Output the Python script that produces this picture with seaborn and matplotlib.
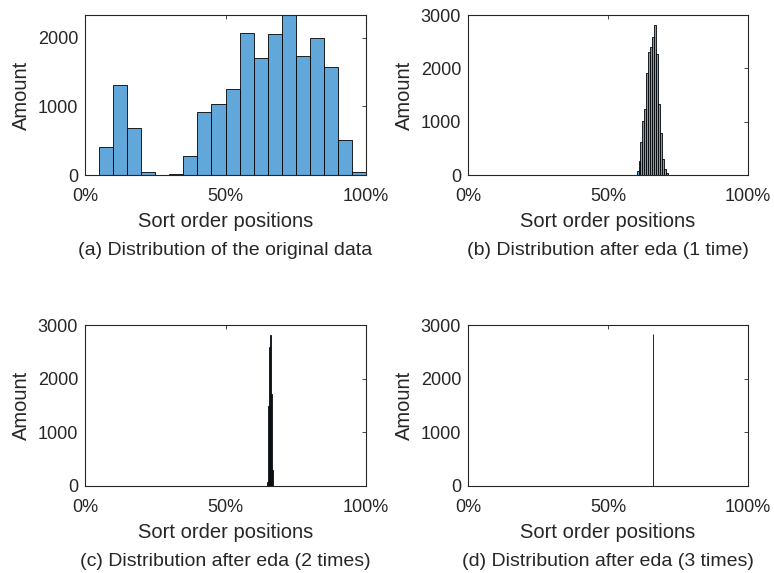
import numpy as np
import pandas as pd
import matplotlib
matplotlib.use('Agg')
import matplotlib.pyplot as plt
import seaborn as sns
from matplotlib.ticker import PercentFormatter

# counts per bin (bin start, bin width as fraction of the sort order)
a_start, a_width = 0.0, 0.05
a_counts = [0, 409, 1305, 690, 39, 0, 10, 281, 921, 1039, 1251, 2074, 1704, 2059,
            2330, 1734, 2000, 1571, 512, 44]

b_start, b_width = 0.574, 0.007
b_counts = [5, 5, 5, 5, 70, 260, 620, 1010, 1240, 1910, 2310, 2400, 2590, 2820,
            2260, 1330, 780, 300, 110, 35, 5, 5, 5]

c_start, c_width = 0.6466, 0.0035
c_counts = [75, 1490, 2595, 2820, 1710, 300]

d_start, d_width = 0.6605, 0.0012
d_counts = [2826]

captions = ['(a) Distribution of the original data',
            '(b) Distribution after eda (1 time)',
            '(c) Distribution after eda (2 times)',
            '(d) Distribution after eda (3 times)']

sns.set_style('white')
plt.rcParams['font.family'] = ['Liberation Sans', 'DejaVu Sans']
ink = '#262626'
plt.rcParams.update({'text.color': ink, 'axes.labelcolor': ink,
                     'xtick.color': ink, 'ytick.color': ink,
                     'axes.edgecolor': ink})

W, H = 774, 573
fig = plt.figure(figsize=(W / 100, H / 100), dpi=100)

# axes boxes in pixels: left, top, right, bottom
boxes = [(85, 15, 366, 175), (468, 15, 748, 175),
         (85, 325, 366, 486), (468, 325, 748, 486)]
panels = [(a_start, a_width, a_counts, max(a_counts), [0, 1000, 2000]),
          (b_start, b_width, b_counts, 3000, [0, 1000, 2000, 3000]),
          (c_start, c_width, c_counts, 3000, [0, 1000, 2000, 3000]),
          (d_start, d_width, d_counts, 3000, [0, 1000, 2000, 3000])]

for (l, t, r, b), (start, width, counts, ymax, yt), cap in zip(boxes, panels, captions):
    ax = fig.add_axes([l / W, 1 - b / H, (r - l) / W, (b - t) / H])
    edges = [start + width * i for i in range(len(counts) + 1)]
    df = pd.DataFrame({'pos': [(edges[i] + edges[i + 1]) / 2 for i in range(len(counts))],
                       'n': counts})
    sns.histplot(data=df, x='pos', weights='n', bins=edges, ax=ax,
                 color='#62A7D9', alpha=1, edgecolor='black', linewidth=0.6)
    ax.set_xlim(0, 1)
    ax.set_ylim(0, ymax)
    ax.set_xticks([0, 0.5, 1])
    ax.set_yticks(yt)
    ax.xaxis.set_major_formatter(PercentFormatter(1.0, decimals=0))
    ax.tick_params(direction='in', length=3, width=0.6, labelsize=13,
                   top=True, right=True)
    ax.tick_params(axis='x', pad=9.5)
    ax.tick_params(axis='y', pad=5)
    for s in ax.spines.values():
        s.set_linewidth(0.8)
        s.set_color(ink)
    ax.set_xlabel('Sort order positions', fontsize=14.5, labelpad=5)
    ax.set_ylabel('Amount', fontsize=14.5, labelpad=5)
    fig.text((l + r) / 2 / W, 1 - (b + 75) / H, cap, fontsize=14,
             ha='center', va='center')

fig.savefig('out.png', dpi=100)
